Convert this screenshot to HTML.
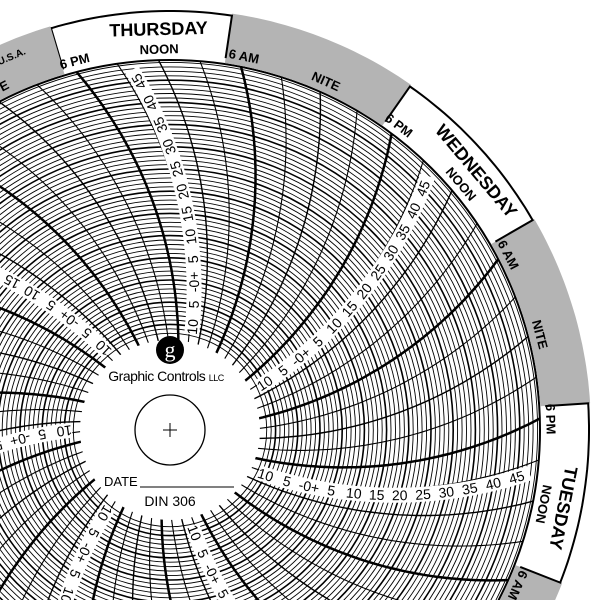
<!DOCTYPE html>
<html><head><meta charset="utf-8"><style>
html,body{margin:0;padding:0;background:#fff;width:600px;height:600px;overflow:hidden}
svg{display:block}
.s text{font:14px "Liberation Sans",sans-serif;fill:#000;text-anchor:middle;dominant-baseline:central}
.d text{font:bold 13px "Liberation Sans",sans-serif;fill:#000;text-anchor:middle;dominant-baseline:central}
.d text.n{font-size:18px}
</style></head><body>
<svg id="sv" width="600" height="600" viewBox="0 0 600 600" xmlns="http://www.w3.org/2000/svg" style="position:absolute;left:0;top:0">
<rect width="600" height="600" fill="#fff"/>
<g id="grid"></g>
<g id="strips">
<g class="s"><text>10</text><text>5</text><text>-0+</text><text>5</text><text>10</text><text>15</text><text>20</text><text>25</text><text>30</text><text>35</text><text>40</text><text>45</text></g>
<g class="s"><text>10</text><text>5</text><text>-0+</text><text>5</text><text>10</text><text>15</text><text>20</text><text>25</text><text>30</text><text>35</text><text>40</text><text>45</text></g>
<g class="s"><text>10</text><text>5</text><text>-0+</text><text>5</text><text>10</text><text>15</text><text>20</text><text>25</text><text>30</text><text>35</text><text>40</text><text>45</text></g>
<g class="s"><text>10</text><text>5</text><text>-0+</text><text>5</text><text>10</text><text>15</text><text>20</text><text>25</text><text>30</text><text>35</text><text>40</text><text>45</text></g>
<g class="s"><text>10</text><text>5</text><text>-0+</text><text>5</text><text>10</text><text>15</text><text>20</text><text>25</text><text>30</text><text>35</text><text>40</text><text>45</text></g>
<g class="s"><text>10</text><text>5</text><text>-0+</text><text>5</text><text>10</text><text>15</text><text>20</text><text>25</text><text>30</text><text>35</text><text>40</text><text>45</text></g>
<g class="s"><text>10</text><text>5</text><text>-0+</text><text>5</text><text>10</text><text>15</text><text>20</text><text>25</text><text>30</text><text>35</text><text>40</text><text>45</text></g>
</g>
<g id="outer"></g>
<g id="days">
<g class="d"><text>6 PM</text><text>NOON</text><text>6 AM</text><text>NITE</text><text class="n">THURSDAY</text></g>
<g class="d"><text>6 PM</text><text>NOON</text><text>6 AM</text><text>NITE</text><text class="n">WEDNESDAY</text></g>
<g class="d"><text>6 PM</text><text>NOON</text><text>6 AM</text><text>NITE</text><text class="n">TUESDAY</text></g>
<g class="d"><text>6 PM</text><text>NOON</text><text>6 AM</text><text>NITE</text><text class="n">MONDAY</text></g>
<g class="d"><text>6 PM</text><text>NOON</text><text>6 AM</text><text>NITE</text><text class="n">SUNDAY</text></g>
<g class="d"><text>6 PM</text><text>NOON</text><text>6 AM</text><text>NITE</text><text class="n">SATURDAY</text></g>
<g class="d"><text>6 PM</text><text>NOON</text><text>6 AM</text><text>NITE</text><text class="n">FRIDAY</text></g>
<g class="d"><text id="usa" style="font-size:10px">U.S.A.</text></g>
</g>
<circle cx="170" cy="430" r="90" fill="#fff"/>
<circle cx="170" cy="350" r="14" fill="#000"/>
<text x="170" y="357" text-anchor="middle" font-family="Liberation Serif,serif" font-size="22" fill="#fff">g</text>
<text x="166" y="381" text-anchor="middle" font-family="Liberation Sans,sans-serif" font-size="14" fill="#000" letter-spacing="-0.5">Graphic Controls <tspan font-size="9">LLC</tspan></text>
<circle cx="170" cy="430" r="35" fill="none" stroke="#000" stroke-width="1.3"/>
<path d="M163 430H177M170 423V437" stroke="#000" stroke-width="1"/>
<text x="104" y="486" font-family="Liberation Sans,sans-serif" font-size="13" fill="#000">DATE</text>
<path d="M140 487H234" stroke="#000" stroke-width="1"/>
<text x="170" y="506" text-anchor="middle" font-family="Liberation Sans,sans-serif" font-size="14" fill="#000">DIN  306</text>
</svg>
<script>
(function(){
var CX=170,CY=430,D=Math.PI/180;
function P(r,a){a*=D;return [CX+r*Math.sin(a),CY-r*Math.cos(a)];}
function tl(t,r){return t-Math.asin(r/840)/D;}
function f(v){return v.toFixed(1);}
var s='';
for(var v=-12;v<=49;v++){var r=150+4.44*v;if(r>368)break;
 s+='<circle cx="170" cy="430" r="'+f(r)+'" fill="none" stroke="#000" stroke-width="'+(v%5==0?1.6:0.9)+'"/>';}
for(var j=0;j<56;j++){var t=11.5+6.4286*j,pts=[];
 for(var r=88;r<=371;r+=6){var p=P(r,tl(t,r));pts.push(f(p[0])+','+f(p[1]));}
 var w=(j%4==0)?2.5:(j%2==0?1.4:1.1);
 s+='<polyline points="'+pts.join(' ')+'" fill="none" stroke="#000" stroke-width="'+w+'"/>';}
for(var k=0;k<7;k++){var t=19.5+51.43*k,pts=[];
 for(var r=98;r<=362;r+=6){var p=P(r,tl(t,r));pts.push(f(p[0])+','+f(p[1]));}
 s+='<polyline points="'+pts.join(' ')+'" fill="none" stroke="#fff" stroke-width="15"/>';}
document.getElementById('grid').innerHTML=s;
var gs=document.querySelectorAll('.s');
for(var k=0;k<gs.length;k++){var t=19.5+51.43*k,tx=gs[k].querySelectorAll('text');
 for(var i=0;i<tx.length;i++){var vv=-10+5*i,r=150+4.44*vv;
  var p=P(r,tl(t,r)),q=P(r+1,tl(t,r+1));var an=Math.atan2(q[1]-p[1],q[0]-p[0])/D;
  tx[i].setAttribute('transform','translate('+f(p[0])+','+f(p[1])+') rotate('+f(an)+')');}}
var o='<circle cx="170" cy="430" r="370" fill="none" stroke="#000" stroke-width="2"/>';
function sector(a1,a2,r1,r2){var pts=[];for(var a=a1;a<=a2;a+=1)pts.push(P(r1,a));pts.push(P(r1,a2));
 for(var a=a2;a>=a1;a-=1)pts.push(P(r2,a));pts.push(P(r2,a1));
 return pts.map(function(p){return f(p[0])+','+f(p[1]);}).join(' ');}
for(var d=0;d<7;d++){var a=-14.5+51.43*d;
 o+='<polygon points="'+sector(a+23,a+49.4,371,421)+'" fill="#b4b4b4"/>';
 var pts=[];for(var x=a-2;x<=a+23;x+=1)pts.push(P(419,x));
 o+='<polyline points="'+pts.map(function(p){return f(p[0])+','+f(p[1]);}).join(' ')+'" fill="none" stroke="#000" stroke-width="2"/>';
 var e1=P(376,a-2),e2=P(420,a-2),e3=P(376,a+23),e4=P(420,a+23);
 o+='<line x1="'+f(e1[0])+'" y1="'+f(e1[1])+'" x2="'+f(e2[0])+'" y2="'+f(e2[1])+'" stroke="#000" stroke-width="2"/>';
 o+='<line x1="'+f(e3[0])+'" y1="'+f(e3[1])+'" x2="'+f(e4[0])+'" y2="'+f(e4[1])+'" stroke="#000" stroke-width="2"/>';}
document.getElementById('outer').innerHTML=o;
var ds=document.querySelectorAll('.d');
for(var d=0;d<7;d++){var a=-14.5+51.43*d,tx=ds[d].querySelectorAll('text');
 var spec=[[381,a],[381,a+12.86],[381,a+25.7],[382,a+38.6],[401,a+12.86]];
 for(var i=0;i<tx.length;i++){var p=P(spec[i][0],spec[i][1]);
  tx[i].setAttribute('transform','translate('+f(p[0])+','+f(p[1])+') rotate('+f(spec[i][1])+')');}}
var u=document.getElementById('usa'),p=P(405,-23);
u.setAttribute('transform','translate('+f(p[0])+','+f(p[1])+') rotate(-23)');
})();
</script>
</body></html>
